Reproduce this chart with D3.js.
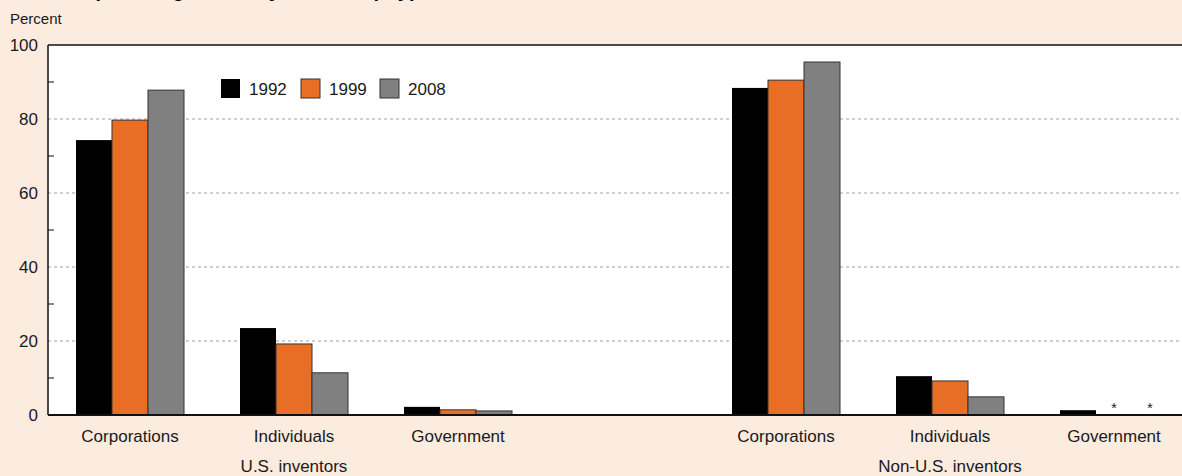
<!DOCTYPE html>
<html><head><meta charset="utf-8">
<script src="https://cdn.jsdelivr.net/npm/d3@7"></script>
<style>
html,body{margin:0;padding:0;background:#fcebdf;}
svg{display:block;font-family:"Liberation Sans",Arial,Helvetica,sans-serif;}
</style></head>
<body>
<svg id="chart" width="1182" height="476"></svg>
<script>
// Data
const titleText = "Share of patents granted, by ownership type and inventor location: 1992, 1999, and 2008";
const groups = ["U.S. inventors", "Non-U.S. inventors"];
const categories = ["Corporations", "Individuals", "Government"];
const years = ["1992", "1999", "2008"];
// values per group, per category, per year (null = asterisk, too small)
const usValues = [
  [74.3, 79.7, 87.8],
  [23.5, 19.2, 11.4],
  [2.2, 1.4, 1.1]
];
const nonUsValues = [
  [88.4, 90.5, 95.4],
  [10.5, 9.2, 4.9],
  [1.3, null, null]
];
const yTicksLabeled = [0, 20, 40, 60, 80, 100];
const yTicksMinor = [10, 30, 50, 70, 90];
const colors = ["#000000", "#e86e25", "#808080"];

(function () {
const svg = d3.select("#chart");
const W = 1182, H = 476;
const pLeft = 48, pTop = 45, pBottom = 415, pRight = 1196;

// slots: 3 categories, a gap, 3 categories
const slots = ["us-0", "us-1", "us-2", "gap", "nus-0", "nus-1", "nus-2"];
const x0 = d3.scaleBand().domain(slots).range([pLeft, pRight]).paddingInner(0).paddingOuter(0);
const x1 = d3.scaleBand().domain(years).range([0, 108]);
const y = d3.scaleLinear().domain([0, 100]).range([pBottom, pTop]);

svg.append("rect").attr("width", W).attr("height", H).attr("fill", "#fcebdf");

// title (mostly clipped at top, as in the reference)
svg.append("text").attr("x", 10).attr("y", -3).attr("font-size", 20).attr("font-weight", "bold")
  .attr("fill", "#000").text(titleText);

svg.append("text").attr("x", 10).attr("y", 24).attr("font-size", 15).attr("fill", "#1a1a1a").text("Percent");

// plot area
svg.append("rect").attr("x", pLeft).attr("y", pTop).attr("width", pRight - pLeft).attr("height", pBottom - pTop).attr("fill", "#fff");

// gridlines
svg.append("g").selectAll("line").data([20, 40, 60, 80]).join("line")
  .attr("x1", pLeft).attr("x2", pRight).attr("y1", d => y(d)).attr("y2", d => y(d))
  .attr("stroke", "#a0a0a0").attr("stroke-width", 1).attr("stroke-dasharray", "3,3");

// bars
const rows = [];
[usValues, nonUsValues].forEach((gv, gi) => {
  gv.forEach((vals, ci) => {
    vals.forEach((v, yi) => {
      rows.push({slot: (gi === 0 ? "us-" : "nus-") + ci, year: years[yi], yi, v});
    });
  });
});
const cx = d => x0(d.slot) + x0.bandwidth() / 2 - 54 + x1(d.year);
svg.append("g").selectAll("rect").data(rows.filter(d => d.v != null)).join("rect")
  .attr("x", cx)
  .attr("width", x1.bandwidth())
  .attr("y", d => y(d.v))
  .attr("height", d => y(0) - y(d.v))
  .attr("fill", d => colors[d.yi])
  .attr("stroke", d => d.yi === 0 ? "none" : "#333")
  .attr("stroke-width", 1);
svg.append("g").selectAll("text").data(rows.filter(d => d.v == null)).join("text")
  .attr("x", d => cx(d) + x1.bandwidth() / 2)
  .attr("y", y(0) - 2)
  .attr("text-anchor", "middle").attr("font-size", 14).attr("fill", "#222").text("*");

// axes frame
svg.append("line").attr("x1", pLeft).attr("x2", pLeft).attr("y1", pTop).attr("y2", pBottom).attr("stroke", "#111").attr("stroke-width", 1.5);
svg.append("line").attr("x1", pLeft).attr("x2", pRight).attr("y1", pTop).attr("y2", pTop).attr("stroke", "#111").attr("stroke-width", 1.5);
svg.append("line").attr("x1", pLeft).attr("x2", pRight).attr("y1", pBottom).attr("y2", pBottom).attr("stroke", "#111").attr("stroke-width", 2);

// y axis labels
const yAxis = d3.axisLeft(y).tickValues(yTicksLabeled).tickSize(0).tickPadding(10);
const ga = svg.append("g").attr("transform", `translate(${pLeft},0)`).call(yAxis);
ga.select(".domain").remove();
ga.selectAll("text").attr("font-size", 17).attr("fill", "#1a1a1a")
  .attr("font-family", "'Liberation Sans',Arial,sans-serif");
// minor ticks inward
svg.append("g").selectAll("line").data(yTicksMinor).join("line")
  .attr("x1", pLeft).attr("x2", pLeft + 6).attr("y1", d => y(d)).attr("y2", d => y(d))
  .attr("stroke", "#111").attr("stroke-width", 1);

// category labels
const catRows = [];
categories.forEach((c, i) => { catRows.push({slot: "us-" + i, c}); catRows.push({slot: "nus-" + i, c}); });
svg.append("g").selectAll("text").data(catRows).join("text")
  .attr("x", d => x0(d.slot) + x0.bandwidth() / 2).attr("y", 442)
  .attr("text-anchor", "middle").attr("font-size", 17).attr("fill", "#1a1a1a").text(d => d.c);
// group labels
svg.append("g").selectAll("text").data(groups).join("text")
  .attr("x", (d, i) => x0(i === 0 ? "us-1" : "nus-1") + x0.bandwidth() / 2).attr("y", 472)
  .attr("text-anchor", "middle").attr("font-size", 17).attr("fill", "#1a1a1a").text(d => d);

// legend
const lg = svg.append("g").attr("transform", "translate(221,79)");
const lx = [0, 80, 159];
years.forEach((yr, i) => {
  lg.append("rect").attr("x", lx[i]).attr("y", 0).attr("width", 19).attr("height", 19)
    .attr("fill", colors[i]).attr("stroke", i === 0 ? "none" : "#333").attr("stroke-width", 1);
  lg.append("text").attr("x", lx[i] + 28).attr("y", 16).attr("font-size", 17).attr("fill", "#1a1a1a").text(yr);
});
})();
</script>
</body></html>
